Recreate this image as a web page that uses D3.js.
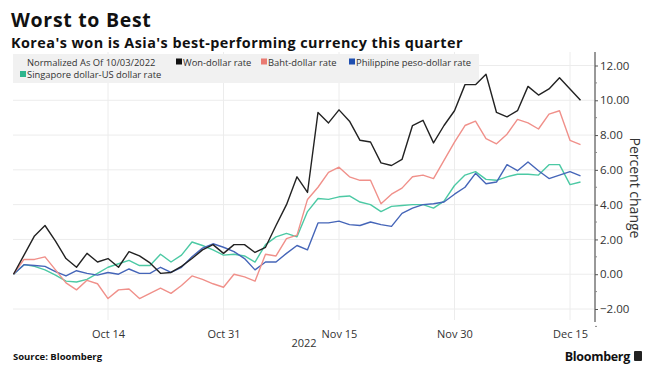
<!DOCTYPE html>
<html><head><meta charset="utf-8">
<script src="https://cdn.jsdelivr.net/npm/d3@7"></script>
<style>body{margin:0;background:#fff;}svg{display:block;font-family:"Open Sans","DejaVu Sans",sans-serif;}</style>
</head><body>
<svg id="c" width="658" height="380"></svg>
<script>
const dates = ["2022-10-03","2022-10-04","2022-10-05","2022-10-06","2022-10-07","2022-10-10","2022-10-11","2022-10-12","2022-10-13","2022-10-14",
"2022-10-17","2022-10-18","2022-10-19","2022-10-20","2022-10-21","2022-10-24","2022-10-25","2022-10-26","2022-10-27","2022-10-28","2022-10-31",
"2022-11-01","2022-11-02","2022-11-03","2022-11-04","2022-11-07","2022-11-08","2022-11-09","2022-11-10","2022-11-11","2022-11-14","2022-11-15",
"2022-11-16","2022-11-17","2022-11-18","2022-11-21","2022-11-22","2022-11-23","2022-11-24","2022-11-25","2022-11-28","2022-11-29","2022-11-30",
"2022-12-01","2022-12-02","2022-12-05","2022-12-06","2022-12-07","2022-12-08","2022-12-09","2022-12-12","2022-12-13","2022-12-14","2022-12-15","2022-12-16"];
const won = [0,1.1,2.2,2.8,1.9,0.9,0.4,1.2,0.7,0.9,0.4,1.3,1.05,0.65,0.05,0.1,0.45,0.9,1.4,1.7,1.2,1.7,1.7,1.25,1.55,2.8,4.0,5.6,4.7,9.3,8.7,
9.45,8.8,7.7,7.6,6.4,6.25,6.6,8.55,8.85,7.55,8.55,9.4,10.9,10.9,11.5,9.3,9.05,9.4,10.8,10.3,10.65,11.3,10.65,10.0];
const baht = [0,0.85,0.85,1.0,0.25,-0.5,-0.9,-0.35,-0.55,-1.4,-0.9,-0.85,-1.4,-1.1,-0.8,-1.1,-0.65,-0.1,-0.3,-0.55,-0.75,0,-0.15,-0.4,1.15,1.05,2.05,2.25,4.3,5.0,5.85,
6.15,5.6,5.4,5.4,4.05,4.6,4.95,5.6,5.7,5.5,6.55,7.6,8.55,8.8,7.8,7.5,8.05,8.9,8.7,8.35,9.2,9.4,7.7,7.45];
const peso = [0,0.55,0.5,0.45,0.15,-0.1,0.2,0.05,-0.05,0.1,0,0.3,0.05,0.05,0.4,0.1,0.4,1.0,1.5,1.75,1.55,1.3,0.9,0.25,0.7,0.7,1.2,1.65,1.4,2.95,2.95,
3.05,2.85,2.8,3.0,2.85,2.75,3.5,3.8,4.0,4.05,4.15,4.6,5.0,5.8,5.2,5.3,6.3,5.95,6.45,5.95,5.5,5.7,5.9,5.65];
const sgd = [0,0.55,0.45,0.25,-0.05,-0.4,-0.45,-0.3,0.05,0.4,0.6,0.8,0.5,0.5,1.15,0.7,1.1,1.85,1.65,1.4,1.1,1.15,1.05,0.7,1.7,2.15,2.35,2.15,3.6,4.35,4.3,
4.45,4.5,4.15,4.0,3.6,3.9,3.95,4.0,4.0,3.8,4.2,5.1,5.7,5.9,5.45,5.4,5.6,5.75,5.75,5.7,6.3,6.3,5.15,5.3];
const seriesNames = ["Won-dollar rate","Baht-dollar rate","Philippine peso-dollar rate","Singapore dollar-US dollar rate"];
const xTickDates = ["2022-10-14","2022-10-31","2022-11-15","2022-11-30","2022-12-15"];
const xTickLabels = ["Oct 14","Oct 31","Nov 15","Nov 30","Dec 15"];
const yTicks = [-2,0,2,4,6,8,10,12];

const svg = d3.select("#c");
const x = d3.scalePoint().domain(dates).range([13.5, 580.5]);
const y = d3.scaleLinear().domain([-2, 12]).range([309, 65.5]);
const lineColors = ["#222222","#f0908a","#4565b8","#4cc9a4"];
const swatch = ["#111111","#ea7a72","#1f4fb0","#2fb58d"];

// grid
const g = svg.append("g");
g.selectAll(".hg").data(yTicks).join("line")
  .attr("x1", 13).attr("x2", 594).attr("y1", d => y(d)).attr("y2", d => y(d))
  .attr("stroke", "#ececec").attr("stroke-width", 1);
g.selectAll(".vg").data(xTickDates).join("line")
  .attr("x1", d => x(d)).attr("x2", d => x(d)).attr("y1", 52).attr("y2", 320)
  .attr("stroke", "#ececec").attr("stroke-width", 1);

// legend box
svg.append("rect").attr("x", 13).attr("y", 54).attr("width", 466).attr("height", 29).attr("fill", "#f1f1f1");
svg.append("text").attr("x", 27).attr("y", 65.5).attr("font-size", 9.4).attr("fill", "#333").text("Normalized As Of 10/03/2022");
const legPos = [[176,65.5],[261,65.5],[349,65.5],[20,78]];
seriesNames.forEach((n,i) => {
  svg.append("rect").attr("x", legPos[i][0]).attr("y", legPos[i][1]-7).attr("width", 6).attr("height", 6).attr("fill", swatch[i]);
  svg.append("text").attr("x", legPos[i][0]+7).attr("y", legPos[i][1]).attr("font-size", 9.4).attr("fill", "#333").text(n);
});

// lines
const all = [won, baht, peso, sgd];
const line = d3.line().x((d,i) => x(dates[i])).y(d => y(d));
[3,2,1,0].forEach(k => {
  svg.append("path").datum(all[k]).attr("d", line).attr("fill", "none")
    .attr("stroke", lineColors[k]).attr("stroke-width", 1.4).attr("stroke-linejoin", "round");
});

// y axis
const ax = svg.append("g").attr("transform", "translate(595,0)");
ax.append("line").attr("x1", 0).attr("x2", 0).attr("y1", 52).attr("y2", 322).attr("stroke", "#333").attr("stroke-width", 1);
ax.call(d3.axisRight(y).tickValues(yTicks).tickFormat(d3.format(".2f")).tickSize(3).tickPadding(2))
  .call(s => s.select(".domain").remove())
  .call(s => s.selectAll("text").attr("font-size", 11.5).attr("fill", "#333").attr("font-family", "Open Sans, DejaVu Sans, sans-serif"))
  .call(s => s.selectAll(".tick line").attr("stroke", "#555"));
ax.selectAll(".minor").data(d3.range(-3, 13, 2)).join("line")
  .attr("x1", 0).attr("x2", 2).attr("y1", d => y(d)).attr("y2", d => y(d)).attr("stroke", "#888");
svg.append("text").attr("transform", "translate(630,188) rotate(90)").attr("text-anchor", "middle")
  .attr("font-size", 14).attr("fill", "#333").text("Percent change");

// x axis labels
const xa = svg.append("g").attr("transform", "translate(0,322)");
xa.call(d3.axisBottom(x).tickValues(xTickDates).tickFormat((d,i) => xTickLabels[i]).tickSize(0).tickPadding(8))
  .call(s => s.select(".domain").remove())
  .call(s => s.selectAll("text").attr("font-size", 11).attr("fill", "#333").attr("font-family", "Open Sans, DejaVu Sans, sans-serif"));
svg.append("text").attr("x", 304).attr("y", 347).attr("text-anchor", "middle").attr("font-size", 11).attr("fill", "#333").text("2022");

// titles
svg.append("text").attr("x", 11).attr("y", 27).attr("font-size", 19.5).attr("font-weight", "bold").attr("letter-spacing", 0.7).attr("fill", "#111").text("Worst to Best");
svg.append("text").attr("x", 11).attr("y", 47.5).attr("font-size", 14.4).attr("font-weight", "bold").attr("letter-spacing", 0.45).attr("fill", "#111").text("Korea's won is Asia's best-performing currency this quarter");

// footer
svg.append("text").attr("x", 13).attr("y", 360).attr("font-size", 9.5).attr("font-weight", "bold").attr("fill", "#111").text("Source: Bloomberg");
svg.append("text").attr("x", 630).attr("y", 361).attr("text-anchor", "end").attr("font-size", 12.5).attr("font-weight", "bold").attr("fill", "#111").attr("letter-spacing", -0.3).text("Bloomberg");
svg.append("rect").attr("x", 634).attr("y", 351).attr("width", 8).attr("height", 10).attr("rx", 1).attr("fill", "#222");
</script>
</body></html>
